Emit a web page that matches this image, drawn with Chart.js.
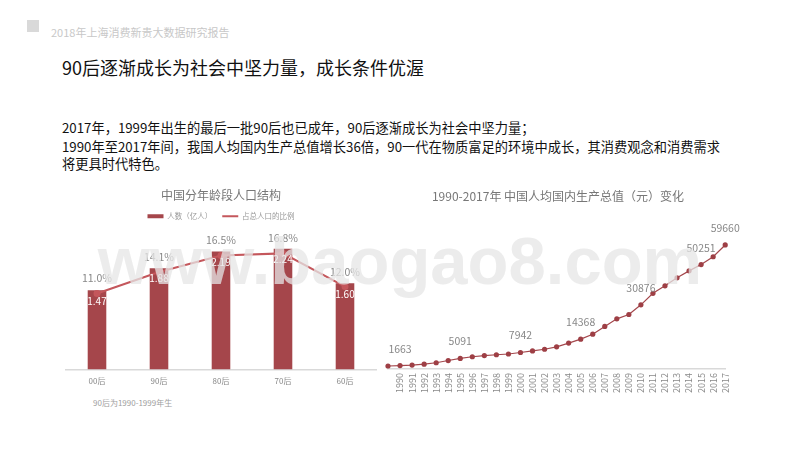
<!DOCTYPE html>
<html>
<head>
<meta charset="utf-8">
<script src="https://cdn.jsdelivr.net/npm/chart.js@4.4.1/dist/chart.umd.min.js"></script>
<style>
  body { margin: 0; width: 800px; height: 450px; background: #fff; position: relative; overflow: hidden;
         font-family: "Noto Sans CJK SC", "Noto Sans", sans-serif; }
  .abs { position: absolute; white-space: nowrap; }
  .box { position: absolute; }
</style>
</head>
<body>
<div class="abs" style="left:27px;top:20px;width:12px;height:12px;background:#d9d9d9"></div>
<div class="abs" style="left:51px;top:24px;font-size:11px;line-height:16px;color:#c8c8c8">2018年上海消费新贵大数据研究报告</div>
<div class="abs" style="left:62px;top:55px;font-size:18px;line-height:24px;color:#111">90后逐渐成长为社会中坚力量，成长条件优渥</div>
<div class="abs" style="left:62px;top:119px;font-size:13.25px;line-height:18px;color:#111">2017年，1999年出生的最后一批90后也已成年，90后逐渐成长为社会中坚力量；</div>
<div class="abs" style="left:62px;top:138px;font-size:13.25px;line-height:18px;color:#111">1990年至2017年间，我国人均国内生产总值增长36倍，90一代在物质富足的环境中成长，其消费观念和消费需求</div>
<div class="abs" style="left:62px;top:155px;font-size:13.25px;line-height:18px;color:#111">将更具时代特色。</div>

<div class="box" style="left:60px;top:185px;width:322px;height:208px"><canvas id="ageChart"></canvas></div>
<div class="abs" style="left:93px;top:397px;font-size:8px;line-height:12px;color:#a0a0a0">90后为1990-1999年生</div>
<div class="box" style="left:380px;top:185px;width:360px;height:212px"><canvas id="gdpChart"></canvas></div>

<div class="abs" style="left:0;width:800px;top:228px;text-align:center;font-family:'Liberation Sans',Arial,sans-serif;font-weight:bold;font-size:67px;line-height:66px;color:rgba(230,230,230,0.75);pointer-events:none">www.baogao8.com</div>

<script>
// age structure chart
const ageGroups = ['00后', '90后', '80后', '70后', '60后'];
const population = [1.47, 1.88, 2.19, 2.24, 1.60];      // 人数（亿人）
const populationShare = [11.0, 14.1, 16.5, 16.8, 12.0]; // 占总人口的比例 %

// GDP per capita chart (first point has no year label in the original)
const years = ['', '1990', '1991', '1992', '1993', '1994', '1995', '1996', '1997', '1998', '1999',
    '2000', '2001', '2002', '2003', '2004', '2005', '2006', '2007', '2008', '2009',
    '2010', '2011', '2012', '2013', '2014', '2015', '2016', '2017'];
const gdpPerCapita = [1450, 1663, 1912, 2334, 3027, 4081, 5091, 5898, 6481, 6860, 7229,
    7942, 8717, 9506, 10666, 12487, 14368, 16738, 20505, 24121, 26222,
    30876, 36403, 40007, 43852, 47203, 50251, 53980, 59660];
const gdpLabelled = ['1990', '1995', '2000', '2005', '2010', '2015', '2017'];

Chart.defaults.font.family = '"Noto Sans CJK SC", "Noto Sans", sans-serif';
Chart.defaults.animation = false;

// draws text next to each point / bar, settings given per dataset index
const valueLabels = {
    id: 'valueLabels',
    afterDatasetsDraw(chart, args, opts) {
        const ctx = chart.ctx;
        (opts.items || []).forEach(item => {
            const meta = chart.getDatasetMeta(item.dataset);
            meta.data.forEach((el, i) => {
                const text = item.format(chart.data.datasets[item.dataset].data[i], i);
                if (!text) return;
                ctx.save();
                ctx.font = item.font;
                ctx.fillStyle = item.color;
                ctx.textAlign = 'center';
                ctx.textBaseline = 'middle';
                ctx.fillText(text, el.x, el.y + item.dy);
                ctx.restore();
            });
        });
    }
};

new Chart(document.getElementById('ageChart'), {
    type: 'bar',
    data: {
        labels: ageGroups,
        datasets: [{
            label: '人数（亿人）',
            data: population,
            backgroundColor: '#a5464b',
            borderWidth: 0,
            barPercentage: 0.3,
            categoryPercentage: 1,
            yAxisID: 'y',
            order: 1
        }, {
            type: 'line',
            label: '占总人口的比例',
            data: populationShare,
            borderColor: '#c4575c',
            backgroundColor: '#c4575c',
            borderWidth: 2,
            pointRadius: 2.5,
            pointBackgroundColor: '#c4575c',
            yAxisID: 'y1',
            order: 0
        }]
    },
    options: {
        responsive: true,
        maintainAspectRatio: false,
        layout: { padding: { left: 4, right: 4, top: 0, bottom: 0 } },
        plugins: {
            title: {
                display: true,
                text: '中国分年龄段人口结构',
                color: '#777',
                font: { size: 12, weight: 'normal' },
                padding: { top: 3, bottom: 0 }
            },
            legend: {
                display: true,
                labels: {
                    color: '#999',
                    font: { size: 7.5 },
                    usePointStyle: true,
                    pointStyleWidth: 16,
                    boxWidth: 16,
                    boxHeight: 4,
                    padding: 10,
                    sort: (a, b) => a.datasetIndex - b.datasetIndex,
                    generateLabels: chart => Chart.defaults.plugins.legend.labels.generateLabels(chart).map(l => ({
                        ...l,
                        pointStyle: l.datasetIndex === 0 ? 'rect' : 'line',
                        lineWidth: l.datasetIndex === 0 ? 0 : 2
                    }))
                }
            },
            tooltip: { enabled: false },
            valueLabels: {
                items: [
                    { dataset: 0, dy: 10.5, font: '10px "Noto Sans CJK SC"', color: '#fff', format: v => v.toFixed(2) },
                    { dataset: 1, dy: -15, font: '10.5px "Noto Sans CJK SC"', color: '#888', format: v => v.toFixed(1) + '%' }
                ]
            }
        },
        scales: {
            x: {
                grid: { display: false, drawTicks: false },
                border: { color: '#d9d9d9', width: 1.5 },
                ticks: { color: '#888', font: { size: 8 }, padding: 7 }
            },
            y: { display: false, min: 0, max: 2.59 },
            y1: { display: false, min: 0, max: 20.2 }
        }
    },
    plugins: [valueLabels]
});

new Chart(document.getElementById('gdpChart'), {
    type: 'line',
    data: {
        labels: years,
        datasets: [{
            label: '人均国内生产总值（元）',
            data: gdpPerCapita,
            borderColor: '#a4474c',
            backgroundColor: '#9e3f45',
            borderWidth: 1.2,
            pointRadius: 2.6,
            pointBackgroundColor: '#9e3f45',
            pointBorderWidth: 0
        }]
    },
    options: {
        responsive: true,
        maintainAspectRatio: false,
        layout: { padding: { left: 8, right: 12, top: 0, bottom: 0 } },
        plugins: {
            title: {
                display: true,
                text: '1990-2017年 中国人均国内生产总值（元）变化',
                color: '#777',
                font: { size: 12, weight: 'normal' },
                padding: { top: 4, bottom: 8 }
            },
            legend: { display: false },
            tooltip: { enabled: false },
            valueLabels: {
                items: [
                    { dataset: 0, dy: -17, font: '10.5px "Noto Sans CJK SC"', color: '#888',
                      format: (v, i) => gdpLabelled.includes(years[i]) ? String(v) : '' }
                ]
            }
        },
        scales: {
            x: {
                offset: false,
                grid: { display: false, drawTicks: false },
                border: { color: '#d9d9d9', width: 1.5 },
                ticks: { color: '#888', font: { size: 9 }, padding: 4, minRotation: 90, maxRotation: 90, autoSkip: false }
            },
            y: { display: false, min: 0, max: 75800 }
        }
    },
    plugins: [valueLabels]
});
</script>
</body>
</html>
